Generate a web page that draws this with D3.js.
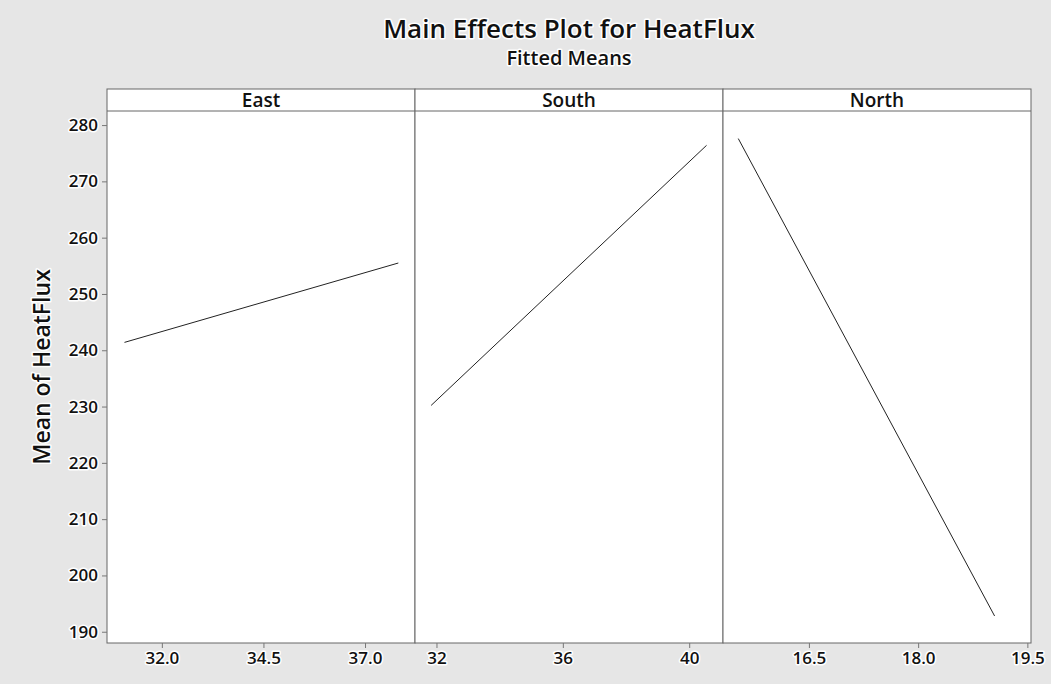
<!DOCTYPE html>
<html>
<head>
<meta charset="utf-8">
<script src="https://cdn.jsdelivr.net/npm/d3@7"></script>
<style>
  html, body { margin: 0; padding: 0; background: #e6e6e6; }
  text { font-family: "Open Sans", "Noto Sans", sans-serif; fill: #111; }
  .halo { paint-order: stroke; stroke: #fff; stroke-width: 3px; stroke-linejoin: round; }
</style>
</head>
<body>
<div id="viz"></div>
<script>
const panels = ['East', 'South', 'North'];
const xDomains = [[30.65, 38.23], [31.32, 41.07], [15.32, 19.55]];
const xTicks = [[32.0, 34.5, 37.0], [32, 36, 40], [16.5, 18.0, 19.5]];
const xFormats = ['.1f', 'd', '.1f'];
// fitted means: [x, mean] at the two ends of each line
const eastMeans = [[31.08, 241.4], [37.82, 255.5]];
const southMeans = [[31.83, 230.2], [40.55, 276.4]];
const northMeans = [[15.53, 277.6], [19.05, 192.8]];
const yTicks = [190, 200, 210, 220, 230, 240, 250, 260, 270, 280];

const width = 1051, height = 684;
const margin = { top: 111, right: 20, bottom: 41, left: 107 };
const headerH = 22;
const plotW = 1031 - margin.left;
const panelW = plotW / panels.length;

const svg = d3.select('#viz').append('svg')
  .attr('width', width)
  .attr('height', height);

svg.append('rect').attr('width', width).attr('height', height).attr('fill', '#e6e6e6');

const yScale = d3.scaleLinear()
  .domain([188.0, 282.5])
  .range([height - margin.bottom, margin.top]);

const allMeans = [eastMeans, southMeans, northMeans];

panels.forEach((name, i) => {
  const x0 = margin.left + i * panelW;
  const xScale = d3.scaleLinear()
    .domain(xDomains[i])
    .range([x0, x0 + panelW]);

  // panel background
  svg.append('rect')
    .attr('x', x0).attr('y', margin.top - headerH)
    .attr('width', panelW).attr('height', height - margin.bottom - margin.top + headerH)
    .attr('fill', '#fff')
    .attr('stroke', '#666').attr('stroke-width', 1);

  svg.append('line')
    .attr('x1', x0).attr('x2', x0 + panelW)
    .attr('y1', margin.top).attr('y2', margin.top)
    .attr('stroke', '#666');

  svg.append('text')
    .attr('x', x0 + panelW / 2).attr('y', margin.top - 4)
    .attr('text-anchor', 'middle')
    .style('font-size', '19px').style('font-weight', 600)
    .text(name);

  // x axis
  const xAxis = svg.append('g')
    .attr('transform', `translate(0, ${height - margin.bottom})`)
    .call(d3.axisBottom(xScale).tickValues(xTicks[i]).tickFormat(d3.format(xFormats[i])).tickSize(5).tickSizeOuter(0));
  xAxis.select('.domain').remove();
  xAxis.selectAll('.tick line').attr('stroke', '#777');
  xAxis.selectAll('.tick text')
    .attr('class', 'halo')
    .attr('y', 7)
    .attr('dy', '0.85em')
    .style('font-size', '17px').style('font-weight', 600)
    .style('font-family', '"Open Sans", sans-serif').attr('fill', '#111');

  // fitted line
  const line = d3.line()
    .x(d => xScale(d[0]))
    .y(d => yScale(d[1]));

  svg.append('path')
    .datum(allMeans[i])
    .attr('d', line)
    .attr('fill', 'none')
    .attr('stroke', '#222')
    .attr('stroke-width', 1);
});

// y axis
const yAxis = svg.append('g')
  .attr('transform', `translate(${margin.left}, 0)`)
  .call(d3.axisLeft(yScale).tickValues(yTicks).tickSize(5).tickSizeOuter(0));
yAxis.select('.domain').remove();
yAxis.selectAll('.tick line').attr('stroke', '#777');
yAxis.selectAll('.tick text')
  .attr('class', 'halo')
  .attr('x', -9)
  .style('font-size', '17px').style('font-weight', 600)
  .style('font-family', '"Open Sans", sans-serif').attr('fill', '#111');

// titles
svg.append('text')
  .attr('class', 'halo')
  .attr('x', margin.left + plotW / 2).attr('y', 38)
  .attr('text-anchor', 'middle')
  .style('font-size', '26px').style('font-weight', 600)
  .text('Main Effects Plot for HeatFlux');

svg.append('text')
  .attr('class', 'halo')
  .attr('x', margin.left + plotW / 2).attr('y', 65)
  .attr('text-anchor', 'middle')
  .style('font-size', '20px').style('font-weight', 600)
  .text('Fitted Means');

svg.append('text')
  .attr('class', 'halo')
  .attr('transform', `translate(50, ${(margin.top + height - margin.bottom) / 2 - 10}) rotate(-90)`)
  .attr('text-anchor', 'middle')
  .style('font-size', '23px').style('font-weight', 600)
  .text('Mean of HeatFlux');
</script>
</body>
</html>
